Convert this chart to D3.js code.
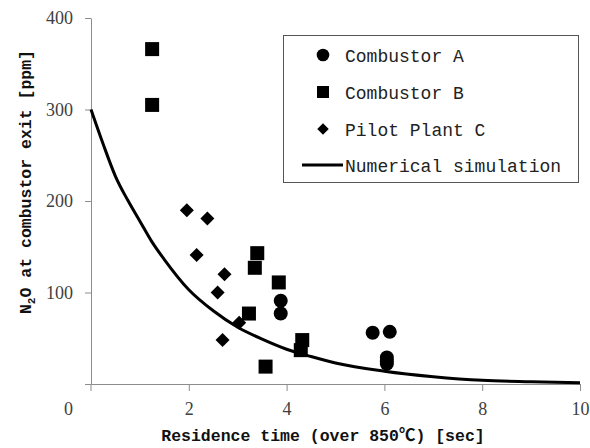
<!DOCTYPE html>
<html>
<head>
<meta charset="utf-8">
<script src="https://cdn.jsdelivr.net/npm/d3@7"></script>
<style>
  body { margin: 0; background: #fff; }
  svg { display: block; }
  .axis path, .axis line { stroke: #8c8c8c; }
  .axis text { font-family: "Liberation Serif", serif; font-size: 18px; fill: #404040; }
  .ttl { font-family: "Liberation Mono", "Noto Sans CJK SC", monospace; font-weight: bold; font-size: 16.5px; fill: #111; }
  .leg { font-family: "Liberation Mono", monospace; font-size: 18px; fill: #222; }
</style>
</head>
<body>
<div id="chart"></div>
<script>
var combA_t = [3.88, 3.88, 5.76, 6.11, 6.05, 6.05, 6.05];
var combA_v = [91, 77, 56, 57, 29, 25, 22];
var combB_t = [1.25, 1.25, 3.40, 3.35, 3.84, 3.23, 3.57, 4.32, 4.29];
var combB_v = [366, 305, 143, 127, 111, 77, 19, 48, 37];
var pilotC_t = [1.96, 2.38, 2.16, 2.73, 2.59, 3.03, 2.69];
var pilotC_v = [190, 181, 141, 120, 100, 67, 48];
// numerical simulation curve
var sim_t = [0, 0.25, 0.5, 0.75, 1, 1.25, 1.5, 2, 2.5, 3, 3.5, 4, 4.5, 5, 6, 7, 8, 9, 10];
var sim_v = [300, 262, 227, 201, 178, 155, 136, 103, 80, 62, 49, 38, 30, 23, 14, 8, 4, 2.5, 1.5];
var xTicks = [0, 2, 4, 6, 8, 10];
var yTicks = [0, 100, 200, 300, 400];
var legendLabels = ["Combustor A", "Combustor B", "Pilot Plant C", "Numerical simulation"];

var W = 590, H = 448;
var svg = d3.select("#chart").append("svg").attr("width", W).attr("height", H);

var x = d3.scaleLinear().domain([0, 10]).range([91, 580]);
var y = d3.scaleLinear().domain([0, 400]).range([384, 18]);

// axes
var xAxis = svg.append("g").attr("class", "axis")
  .attr("transform", "translate(0," + y(0) + ")")
  .call(d3.axisBottom(x).tickValues(xTicks.slice(1)).tickSize(7).tickPadding(11).tickSizeOuter(0));
// tick at 0 as well, without label
xAxis.append("line").attr("x1", x(0)).attr("x2", x(0)).attr("y1", 0).attr("y2", 7).attr("stroke", "#8c8c8c");

svg.append("g").attr("class", "axis")
  .attr("transform", "translate(" + x(0) + ",0)")
  .call(d3.axisLeft(y).tickValues(yTicks).tickSize(6).tickPadding(12).tickSizeOuter(0)
    .tickFormat(function(d) { return d === 0 ? "" : d; }));

// the lone "0" sits below the axis corner
svg.append("text")
  .attr("x", x(0) - 18).attr("y", y(0) + 31)
  .attr("text-anchor", "end")
  .style("font-family", "Liberation Serif, serif").style("font-size", "18px").style("fill", "#404040")
  .text("0");

// titles
svg.append("text").attr("class", "ttl")
  .attr("x", 323).attr("y", 441).attr("text-anchor", "middle")
  .text("Residence time (over 850\u2103) [sec]");

var yt = svg.append("text").attr("class", "ttl")
  .attr("transform", "translate(31,182) rotate(-90)")
  .attr("text-anchor", "middle");
yt.append("tspan").text("N");
yt.append("tspan").attr("dy", 4).style("font-size", "11px").text("2");
yt.append("tspan").attr("dy", -4).text("O at combustor exit [ppm]");

// simulation line
var line = d3.line()
  .x(function(d, i) { return x(sim_t[i]); })
  .y(function(d) { return y(d); })
  .curve(d3.curveMonotoneX);
svg.append("path").datum(sim_v)
  .attr("d", line).attr("fill", "none").attr("stroke", "#000").attr("stroke-width", 3);

// markers
var g = svg.append("g");
g.selectAll(".ptA").data(combA_v).enter().append("circle")
  .attr("cx", function(d, i) { return x(combA_t[i]); })
  .attr("cy", function(d) { return y(d); })
  .attr("r", 7).attr("fill", "#000");

g.selectAll(".ptB").data(combB_v).enter().append("rect")
  .attr("x", function(d, i) { return x(combB_t[i]) - 7; })
  .attr("y", function(d) { return y(d) - 7; })
  .attr("width", 14).attr("height", 14).attr("fill", "#000");

var diamond = d3.symbol().type(d3.symbolDiamond2).size(125);
g.selectAll(".ptC").data(pilotC_v).enter().append("path")
  .attr("d", diamond)
  .attr("transform", function(d, i) { return "translate(" + x(pilotC_t[i]) + "," + y(d) + ")"; })
  .attr("fill", "#000");

// legend
var leg = svg.append("g");
leg.append("rect").attr("x", 283.5).attr("y", 35.5).attr("width", 295).attr("height", 147)
  .attr("fill", "#fff").attr("stroke", "#555").attr("stroke-width", 1);
var rowY = [55, 92, 129, 165];
leg.append("circle").attr("cx", 323).attr("cy", rowY[0]).attr("r", 6.3).attr("fill", "#000");
leg.append("rect").attr("x", 317).attr("y", rowY[1] - 6).attr("width", 12).attr("height", 12).attr("fill", "#000");
leg.append("path").attr("d", d3.symbol().type(d3.symbolDiamond2).size(85)())
  .attr("transform", "translate(323," + rowY[2] + ")").attr("fill", "#000");
leg.append("line").attr("x1", 302).attr("x2", 343).attr("y1", rowY[3]).attr("y2", rowY[3])
  .attr("stroke", "#000").attr("stroke-width", 3);
leg.selectAll(".lt").data(legendLabels).enter().append("text").attr("class", "leg")
  .attr("x", 345).attr("y", function(d, i) { return rowY[i] + 7; })
  .text(function(d) { return d; });
</script>
</body>
</html>
